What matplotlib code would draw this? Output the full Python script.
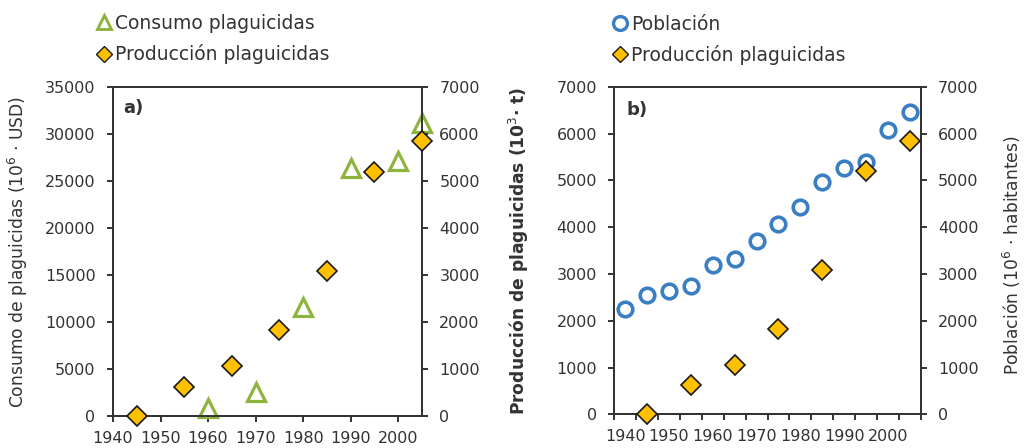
from matplotlib.lines import Line2D
from matplotlib.ticker import MultipleLocator
import matplotlib.pyplot as plt
import numpy as np

plt.rcParams.update({
    'font.family': ['DejaVu Sans'],
    'font.size': 11,
    'text.color': '#333333',
    'axes.labelcolor': '#333333',
    'xtick.color': '#333333',
    'ytick.color': '#333333',
    'axes.edgecolor': '#333333',
})

# datos
anios_consumo = [1960, 1970, 1980, 1990, 2000, 2005]
consumo = [800, 2600, 11650, 26400, 27150, 31200]  # 10^6 USD

anios_produccion = [1945, 1955, 1965, 1975, 1985, 1995, 2005]
produccion = [10, 620, 1060, 1825, 3080, 5200, 5850]  # 10^3 t

anios_poblacion = [1940, 1945, 1950, 1955, 1960, 1965, 1970,
                   1975, 1980, 1985, 1990, 1995, 2000, 2005]
poblacion = [2250, 2550, 2635, 2750, 3200, 3330, 3695,
             4070, 4435, 4975, 5265, 5395, 6070, 6455]  # 10^6 hab

verde = '#8cb43e'
azul = '#3a7ec4'
amarillo = '#ffc000'

fig = plt.figure(figsize=(10.28, 4.48), dpi=100)
ax_a = fig.add_axes([0.1099, 0.0714, 0.3006, 0.734])
ax_b = fig.add_axes([0.5976, 0.0752, 0.2980, 0.731])
ax_a2 = ax_a.twinx()
ax_b2 = ax_b.twinx()

lw_ejes = 1.4


def estilo(ax):
    for s in ax.spines.values():
        s.set_linewidth(lw_ejes)
    ax.tick_params(which='both', width=lw_ejes, length=4.5, direction='out',
                   labelsize=11.5)


# ---- panel a ----
ax_a.plot(anios_consumo, consumo, linestyle='none', marker='^', ms=12.5,
          mfc='white', mec=verde, mew=2.3, clip_on=False, zorder=3)
ax_a2.plot(anios_produccion, produccion, linestyle='none', marker='D', ms=10,
           mfc=amarillo, mec='#1a1a1a', mew=1.2, clip_on=False, zorder=3)

ax_a.set_xlim(1940, 2005)
ax_a.set_xticks(np.arange(1940, 2001, 10))
ax_a.set_ylim(0, 35000)
ax_a.yaxis.set_major_locator(MultipleLocator(5000))
ax_a2.set_ylim(0, 7000)
ax_a2.yaxis.set_major_locator(MultipleLocator(1000))
for ax in (ax_a, ax_a2):
    estilo(ax)
ax_a.tick_params(axis='y', pad=8)
ax_a2.tick_params(axis='y', pad=8)
ax_a.tick_params(axis='x', pad=6)

ax_a.set_ylabel('Consumo de plaguicidas (10$^6$ · USD)', fontsize=12.3,
                va='center')
ax_a.yaxis.set_label_coords(-0.307, 0.5)
ax_a.text(0.033, 0.936, 'a)', transform=ax_a.transAxes, fontsize=13,
          fontweight='bold', va='center', ha='left')

h_a = [Line2D([], [], linestyle='none', marker='^', ms=10.5, mfc='white',
              mec=verde, mew=2.1),
       Line2D([], [], linestyle='none', marker='D', ms=8, mfc=amarillo,
              mec='#1a1a1a', mew=1)]
ax_a.legend(h_a, ['Consumo plaguicidas', 'Producción plaguicidas'],
            loc='lower left', bbox_to_anchor=(-0.059, 1.07), frameon=False,
            fontsize=13.5, borderpad=0, borderaxespad=0, handlelength=1.0,
            handletextpad=0.1, labelspacing=0.6)

# ---- panel b ----
ax_b.plot(anios_produccion, produccion, linestyle='none', marker='D', ms=10,
          mfc=amarillo, mec='#1a1a1a', mew=1.2, clip_on=False, zorder=3)
ax_b2.plot(anios_poblacion, poblacion, linestyle='none', marker='o', ms=10.5,
           mfc='white', mec=azul, mew=2.6, clip_on=False, zorder=3)
ax_b.set_zorder(ax_b2.get_zorder() + 1)
ax_b.patch.set_visible(False)

ax_b.set_xlim(1937.5, 2007.5)
ax_b.set_xticks(np.arange(1940, 2001, 10))
ax_b.set_xticks(np.arange(1937.5, 2008, 5), minor=True)
ax_b.set_ylim(0, 7000)
ax_b.yaxis.set_major_locator(MultipleLocator(1000))
ax_b2.set_ylim(0, 7000)
ax_b2.yaxis.set_major_locator(MultipleLocator(1000))
for ax in (ax_b, ax_b2):
    estilo(ax)
ax_b.tick_params(axis='x', which='major', length=0, pad=10.5)
ax_b.tick_params(axis='y', pad=8)
ax_b2.tick_params(axis='y', pad=8)
ax_b2.tick_params(axis='y', which='minor', length=0)

ax_b.set_ylabel('Producción de plaguicidas (10$^3$· t)', fontsize=12.3,
                fontweight='bold', va='center')
ax_b.yaxis.set_label_coords(-0.311, 0.5)
ax_b2.set_ylabel('Población (10$^6$ · habitantes)', fontsize=12.3,
                 rotation=90, va='center')
ax_b2.yaxis.set_label_coords(1.297, 0.485)
ax_b.text(0.04, 0.929, 'b)', transform=ax_b.transAxes, fontsize=13,
          fontweight='bold', va='center', ha='left')

h_b = [Line2D([], [], linestyle='none', marker='o', ms=10, mfc='white',
              mec=azul, mew=2.4),
       Line2D([], [], linestyle='none', marker='D', ms=8, mfc=amarillo,
              mec='#1a1a1a', mew=1)]
ax_b.legend(h_b, ['Población', 'Producción plaguicidas'],
            loc='lower left', bbox_to_anchor=(-0.012, 1.067), frameon=False,
            fontsize=13.5, borderpad=0, borderaxespad=0, handlelength=1.0,
            handletextpad=0.1, labelspacing=0.6)

fig.savefig('out.png', dpi=100)
